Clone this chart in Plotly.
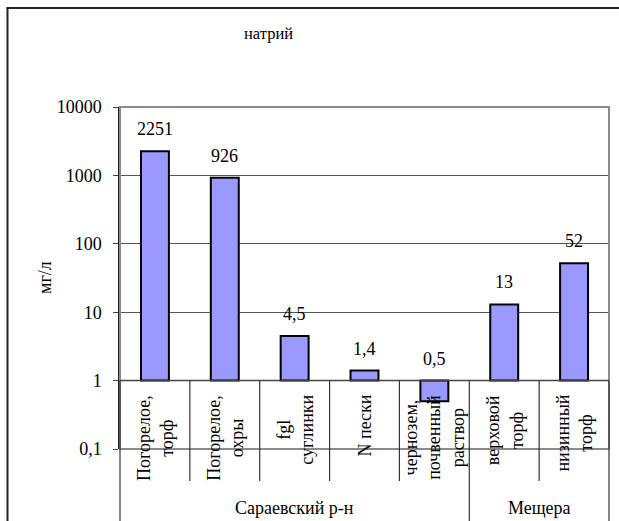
import math
import plotly.graph_objects as go

# ---- data ----
categories = [
    "Погорелое,<br>торф",
    "Погорелое,<br>охры",
    "fgl<br>суглинки",
    "N пески",
    "чернозем,<br>почвенный<br>раствор",
    "верховой<br>торф",
    "низинный<br>торф",
]
values = [2251, 926, 4.5, 1.4, 0.5, 13, 52]
value_labels = ["2251", "926", "4,5", "1,4", "0,5", "13", "52"]
groups = ["Сараевский р-н", "Мещера"]
group_sizes = [5, 2]
tick_vals = [0.1, 1, 10, 100, 1000, 10000]
tick_text = ["0,1", "1", "10", "100", "1000", "10000"]
title_text = "натрий"
y_title = "мг/л"
bar_base = 1

# ---- layout constants (page coordinates; body margin removed below) ----
W, H = 619, 521
ML, MT = 120, 107
MR = W - 609
MB = H - 449
PW, PH = W - ML - MR, H - MT - MB
FONT = "'Liberation Serif', 'Times New Roman', Times, serif"
n = len(categories)
ymin_log, ymax_log = -1, 4


def px_to_paper_x(px):
    return (px - ML) / PW


def px_to_paper_y(py):
    return 1 - (py - MT) / PH


base_paper = (0 - ymin_log) / (ymax_log - ymin_log)

fig = go.Figure()
fig.add_trace(go.Bar(
    x=list(range(n)),
    y=[v - bar_base for v in values],
    base=[bar_base] * n,
    width=0.4,
    marker=dict(color="#9999FF", line=dict(color="black", width=2)),
    hoverinfo="skip",
))

annotations = []
# value labels (log axis -> annotation positions in log10 units)
for i, (v, t) in enumerate(zip(values, value_labels)):
    annotations.append(dict(
        x=i, y=math.log10(max(v, bar_base)), xref="x", yref="y", text=t,
        showarrow=False, xanchor="center", yanchor="middle",
        yshift=22, font=dict(family=FONT, size=18, color="black"),
    ))
# category labels
for i, c in enumerate(categories):
    annotations.append(dict(
        x=i, y=px_to_paper_y(393), xref="x", yref="paper", text=c,
        showarrow=False, textangle=-90, xanchor="center", yanchor="top",
        align="center", font=dict(family=FONT, size=18, color="black"),
    ))
# group labels
start = 0
for g, s in zip(groups, group_sizes):
    center = (start + start + s) / 2 / n
    annotations.append(dict(
        x=center, y=px_to_paper_y(508), xref="paper", yref="paper", text=g,
        showarrow=False, xanchor="center", yanchor="middle",
        font=dict(family=FONT, size=18, color="black"),
    ))
    start += s
# title
annotations.append(dict(
    x=px_to_paper_x(268), y=px_to_paper_y(33), xref="paper", yref="paper",
    text=title_text, showarrow=False, xanchor="center", yanchor="middle",
    font=dict(family=FONT, size=16.5, color="black"),
))
# y title
annotations.append(dict(
    x=px_to_paper_x(45), y=0.5, xref="paper", yref="paper", text=y_title,
    showarrow=False, textangle=-90, xanchor="center", yanchor="middle",
    font=dict(family=FONT, size=18, color="black"),
))

shapes = []
# outer chart frame: left and top edges
shapes.append(dict(type="line", xref="paper", yref="paper",
                   x0=px_to_paper_x(7.5), x1=px_to_paper_x(7.5),
                   y0=px_to_paper_y(530), y1=px_to_paper_y(7.5),
                   line=dict(color="#222222", width=2), layer="below"))
shapes.append(dict(type="line", xref="paper", yref="paper",
                   x0=px_to_paper_x(6.5), x1=px_to_paper_x(630),
                   y0=px_to_paper_y(8), y1=px_to_paper_y(8),
                   line=dict(color="#222222", width=2), layer="below"))
# plot area border
shapes.append(dict(type="rect", xref="paper", yref="paper", x0=0, x1=1, y0=0, y1=1,
                   line=dict(color="#8a8a8a", width=2)))
# category axis line at base
shapes.append(dict(type="line", xref="paper", yref="paper", x0=0, x1=1,
                   y0=base_paper, y1=base_paper,
                   line=dict(color="#444444", width=1.5)))
# dividers
group_edges = [0]
for s in group_sizes:
    group_edges.append(group_edges[-1] + s)
for k in range(n + 1):
    y_end = px_to_paper_y(560) if k in group_edges else px_to_paper_y(481)
    shapes.append(dict(type="line", xref="paper", yref="paper",
                       x0=k / n, x1=k / n, y0=base_paper, y1=y_end,
                       line=dict(color="#333333", width=1.2)))

fig.update_layout(
    width=W, height=H,
    margin=dict(l=ML, r=MR, t=MT, b=MB, pad=0),
    paper_bgcolor="white", plot_bgcolor="white",
    showlegend=False,
    annotations=annotations,
    shapes=shapes,
    font=dict(family=FONT, size=18, color="black"),
    xaxis=dict(range=[-0.5, n - 0.5], showticklabels=False, showgrid=False,
               zeroline=False, ticks="", showline=False, fixedrange=True),
    yaxis=dict(type="log", range=[ymin_log, ymax_log], tickvals=tick_vals,
               ticktext=tick_text, showgrid=True, gridcolor="#555555",
               gridwidth=1, zeroline=False, showline=True, linecolor="#222222",
               linewidth=1.5, ticks="outside", ticklen=5, tickcolor="#444444",
               tickfont=dict(family=FONT, size=18, color="black"),
               ticklabelstandoff=8, fixedrange=True),
)

fig.write_html(
    "out.html",
    config={"displayModeBar": False},
    post_script="document.body.style.margin='0px';document.body.style.overflow='hidden';",
)
